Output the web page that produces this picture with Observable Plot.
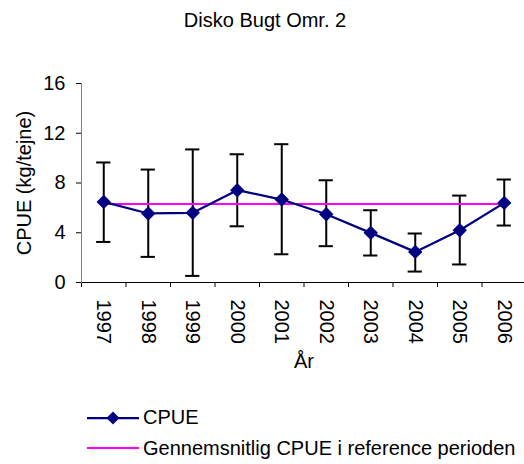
<!DOCTYPE html>
<html>
<head>
<meta charset="utf-8">
<script src="https://cdn.jsdelivr.net/npm/d3@7"></script>
<script src="https://cdn.jsdelivr.net/npm/@observablehq/plot@0.6"></script>
<style>
  html, body { margin: 0; padding: 0; background: #fff; }
  body { font-family: "Liberation Sans", Arial, sans-serif; color: #000; }
  #wrap { position: relative; width: 524px; height: 464px; overflow: hidden; }
  #title { position: absolute; left: 0; top: 8px; width: 530px; text-align: center; font-size: 20px; line-height: 24px; }
  #chart { position: absolute; left: 0; top: 40px; }
  .leg { position: absolute; left: 86px; height: 24px; display: flex; align-items: center; font-size: 20px; white-space: nowrap; }
  .leg svg { display: block; margin-right: 3px; }
</style>
</head>
<body>
<div id="wrap">
  <div id="title">Disko Bugt Omr. 2</div>
  <div id="chart"></div>
  <div class="leg" id="leg1" style="top:405.5px"></div>
  <div class="leg" id="leg2" style="top:436px"></div>
</div>
<script>
const years = [1997, 1998, 1999, 2000, 2001, 2002, 2003, 2004, 2005, 2006];
const cpue  = [6.48, 5.55, 5.60, 7.42, 6.67, 5.49, 3.99, 2.46, 4.20, 6.40];
const upper = [9.65, 9.08, 10.70, 10.31, 11.12, 8.22, 5.81, 3.94, 6.99, 8.28];
const lower = [3.26, 2.06, 0.53, 4.52, 2.27, 2.92, 2.17, 0.88, 1.45, 4.58];
const refMean = 6.32;
const yTicks = [0, 4, 8, 12, 16];
const seriesName = "CPUE";
const refName = "Gennemsnitlig CPUE i reference perioden";
const yLabel = "CPUE (kg/tejne)";
const xLabel = "År";

const data = years.map((y, i) => ({year: y, cpue: cpue[i], hi: upper[i], lo: lower[i]}));
const boundaries = years.map(y => y - 0.5);
const navy = "#000080";
const magenta = "#FF00FF";
const font = "Liberation Sans, Arial, sans-serif";
const capHalf = 0.16;

const chart = Plot.plot({
  width: 524,
  height: 345,
  marginLeft: 81,
  marginRight: -2,
  marginTop: 43,
  marginBottom: 103,
  style: {fontFamily: font, fontSize: "20px", color: "#000", background: "transparent", overflow: "visible"},
  x: {domain: [years[0] - 0.5, years[years.length - 1] + 0.5], axis: null},
  y: {domain: [yTicks[0], yTicks[yTicks.length - 1]], axis: null},
  marks: [
    Plot.axisY({ticks: yTicks, tickSize: 5, tickPadding: 11, fontSize: 20, label: null, stroke: "#000"}),
    Plot.axisX({ticks: boundaries, tickSize: 5, tickFormat: () => "", label: null, stroke: "#000"}),
    Plot.axisX({ticks: years, tickSize: 0, tickPadding: 17, tickRotate: 90, tickFormat: d => String(d), fontSize: 20, label: null}),
    Plot.frame({anchor: "bottom", stroke: "#000"}),
    Plot.frame({anchor: "left", stroke: "#808080"}),
    Plot.text([yLabel], {frameAnchor: "left", textAnchor: "middle", lineAnchor: "middle", rotate: -90, dx: -57, fontSize: 20, text: d => d}),
    Plot.text([xLabel], {frameAnchor: "bottom", textAnchor: "middle", lineAnchor: "middle", dy: 79, fontSize: 20, text: d => d}),
    Plot.ruleX(data, {x: "year", y1: "lo", y2: "hi", stroke: "#000", strokeWidth: 2}),
    Plot.ruleY(data, {y: "hi", x1: d => d.year - capHalf, x2: d => d.year + capHalf, stroke: "#000", strokeWidth: 2}),
    Plot.ruleY(data, {y: "lo", x1: d => d.year - capHalf, x2: d => d.year + capHalf, stroke: "#000", strokeWidth: 2}),
    Plot.ruleY([refMean], {x1: years[0], x2: years[years.length - 1], stroke: magenta, strokeWidth: 2}),
    Plot.line(data, {x: "year", y: "cpue", stroke: navy, strokeWidth: 2.25}),
    Plot.dot(data, {x: "year", y: "cpue", symbol: "diamond2", r: 6.5, fill: navy, stroke: "none"})
  ]
});
document.getElementById("chart").appendChild(chart);

function legendSwatch(color, withMarker) {
  const ns = "http://www.w3.org/2000/svg";
  const s = document.createElementNS(ns, "svg");
  s.setAttribute("width", 54); s.setAttribute("height", 24);
  const l = document.createElementNS(ns, "line");
  l.setAttribute("x1", 1); l.setAttribute("x2", 53); l.setAttribute("y1", 12); l.setAttribute("y2", 12);
  l.setAttribute("stroke", color); l.setAttribute("stroke-width", withMarker ? 2.25 : 2);
  s.appendChild(l);
  if (withMarker) {
    const p = document.createElementNS(ns, "path");
    p.setAttribute("d", "M27,5.5L33.5,12L27,18.5L20.5,12Z");
    p.setAttribute("fill", color);
    s.appendChild(p);
  }
  return s;
}
const l1 = document.getElementById("leg1");
l1.appendChild(legendSwatch(navy, true));
l1.appendChild(document.createTextNode(seriesName));
const l2 = document.getElementById("leg2");
l2.appendChild(legendSwatch(magenta, false));
l2.appendChild(document.createTextNode(refName));
</script>
</body>
</html>
